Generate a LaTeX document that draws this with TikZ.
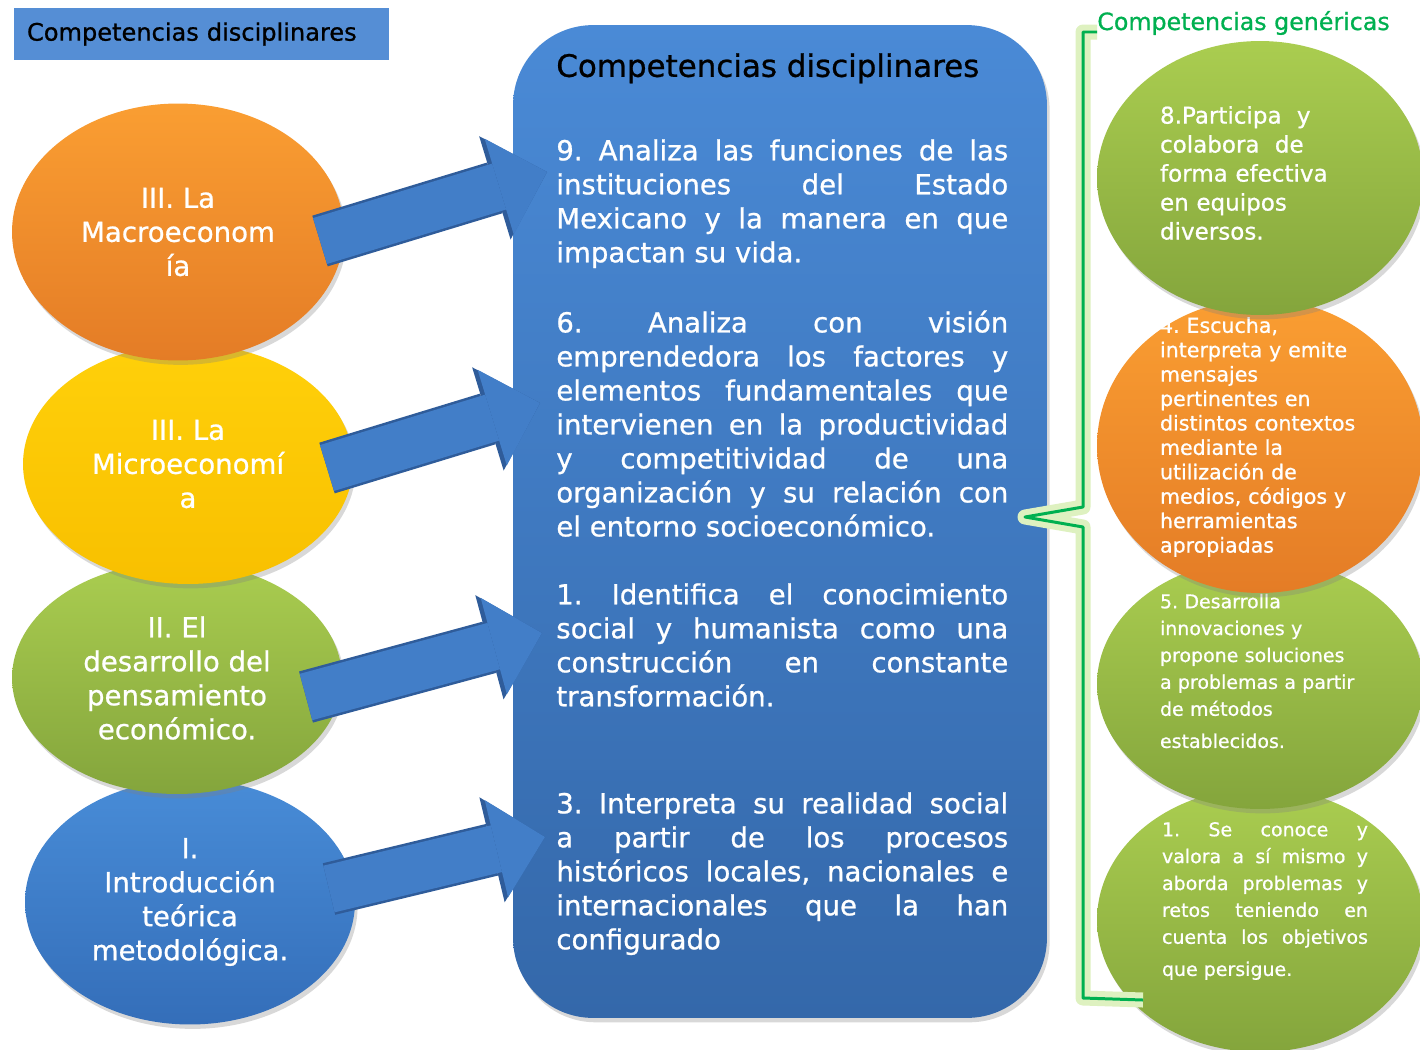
\documentclass[tikz,border=0pt]{standalone}
\usepackage{fontspec}
\setmainfont{DejaVu Sans}[FakeBold=0.8]
\usetikzlibrary{shapes.geometric,arrows.meta,shadows,positioning}

\definecolor{labelblue}{RGB}{85,142,213}
\definecolor{cboxtop}{RGB}{74,138,214}
\definecolor{cboxbot}{RGB}{52,104,170}
\definecolor{orangetop}{RGB}{250,158,50}
\definecolor{orangebot}{RGB}{228,124,38}
\definecolor{yellowtop}{RGB}{255,208,10}
\definecolor{yellowbot}{RGB}{248,192,0}
\definecolor{greentop}{RGB}{170,205,80}
\definecolor{greenbot}{RGB}{132,165,60}
\definecolor{bluetop}{RGB}{72,140,215}
\definecolor{bluebot}{RGB}{52,110,185}
\definecolor{arrowblue}{RGB}{66,126,200}
\definecolor{arrowdark}{RGB}{47,92,154}
\definecolor{bracegreen}{RGB}{0,176,80}
\definecolor{glowgreen}{RGB}{222,241,192}

\hyphenpenalty=10000
\exhyphenpenalty=10000
\tolerance=10000
\hbadness=10000
\frenchspacing

\tikzset{
  soft_shadow/.style={drop shadow={shadow xshift=1.5pt, shadow yshift=-2.5pt, opacity=0.3}},
  left_ell/.style={ellipse, inner sep=0pt, minimum width=6.6cm, text=white, align=center,
    font=\fontsize{15.7pt}{19.35pt}\selectfont, soft_shadow},
  right_ell/.style={ellipse, inner sep=0pt, minimum width=6.52cm, soft_shadow},
  orange_fill/.style={top color=orangetop, bottom color=orangebot},
  yellow_fill/.style={top color=yellowtop, bottom color=yellowbot},
  green_fill/.style={top color=greentop, bottom color=greenbot},
  blue_fill/.style={top color=bluetop, bottom color=bluebot},
  body_txt/.style={anchor=north west, inner sep=0pt, text width=9.04cm, align=justify,
    text=white, font=\fontsize{15.7pt}{19.35pt}\selectfont},
  gen_txt/.style={inner sep=0pt, text=white, align=left},
  arrow_edge/.style={draw=arrowdark, line width=1.06cm,
    -{Triangle[width=2.16cm, length=1.09cm, line width=0pt]}},
  blue_arrow/.style={draw=arrowblue, line width=0.96cm,
    -{Triangle[width=2.0cm, length=1.0cm, line width=0pt]}},
}

\begin{document}
\begin{tikzpicture}[x=0.02cm, y=-0.02cm]

	%%% Page
	\fill[white] (0,0) rectangle (1420,1049);
	\useasboundingbox (0,0) rectangle (1420,1049);

	%%% Label top left
	\node[fill=labelblue, minimum height=1.04cm, text width=6.98cm, inner xsep=0.26cm,
	  align=left, font=\fontsize{13.7pt}{16pt}\selectfont] (disc_label) at (201.5,34) {Competencias disciplinares};

	%%% Central box
	\node[rounded corners=1.6cm, minimum width=10.68cm, minimum height=19.86cm,
	  top color=cboxtop, bottom color=cboxbot, soft_shadow] (comp_box) at (780,521.5) {};
	\node[anchor=north west, inner sep=0pt, font=\fontsize{17.6pt}{21pt}\selectfont] (comp_title) at (556,53) {Competencias disciplinares};

	\node[body_txt] (comp_9) at (556,139) {9. Analiza las funciones de las\linebreak
	  instituciones del Estado\linebreak Mexicano y la manera en que\linebreak impactan su vida.};
	\node[body_txt] (comp_6) at (556,310) {6. Analiza con visión\linebreak
	  emprendedora los factores y\linebreak elementos fundamentales que\linebreak
	  intervienen en la productividad\linebreak y competitividad de una\linebreak
	  organización y su relación con\linebreak el entorno socioeconómico.};
	\node[body_txt] (comp_1) at (556,583) {1. Identifica el conocimiento\linebreak
	  social y humanista como una\linebreak construcción en constante\linebreak transformación.};
	\node[body_txt] (comp_3) at (556,792) {3. Interpreta su realidad social\linebreak
	  a partir de los procesos\linebreak históricos locales, nacionales e\linebreak
	  internacionales que la han\linebreak configurado};

	%%% Units (left)
	\node[left_ell, blue_fill, minimum height=4.9cm] (unit_i) at (190,902) {I.\\Introducción\\teórica\\metodológica.};
	\node[left_ell, green_fill, minimum height=4.64cm] (unit_ii) at (177,678) {II. El\\desarrollo del\\pensamiento\\económico.};
	\node[left_ell, yellow_fill, minimum height=4.8cm] (unit_micro) at (188,464) {III. La\\Microeconomí\\a};
	\node[left_ell, orange_fill, minimum width=6.64cm, minimum height=5.14cm] (unit_macro) at (178,232) {III. La\\Macroeconom\\ía};

	%%% Arrows
	\coordinate (ar_macro_tail) at (320,241);
	\coordinate (ar_macro_tip) at (547,172);
	\coordinate (ar_micro_tail) at (327,468);
	\coordinate (ar_micro_tip) at (540,403);
	\coordinate (ar_ii_tail) at (306,697);
	\coordinate (ar_ii_tip) at (542,633);
	\coordinate (ar_i_tail) at (329,889);
	\coordinate (ar_i_tip) at (545,837);
	\foreach \ar in {macro,micro,ii,i}{
	  \draw[arrow_edge] (ar_\ar_tail) -- (ar_\ar_tip);
	  \draw[blue_arrow] (ar_\ar_tail) -- (ar_\ar_tip);
	}

	%%% Generic competences (right)
	\node[right_ell, green_fill, minimum height=5.28cm] (gen_1) at (1260,920) {};
	\node[gen_txt, text width=4.12cm, align=justify, font=\fontsize{10.8pt}{15.3pt}\selectfont] (gen_1_txt) at (1265,901)
	  {1. Se conoce y\linebreak valora a sí mismo y\linebreak aborda problemas y\linebreak retos teniendo en\linebreak
	  cuenta los objetivos\vadjust{\vskip 3pt}\linebreak que persigue.};

	\node[right_ell, green_fill, minimum height=5.0cm] (gen_5) at (1260,684) {};
	\node[gen_txt, text width=4cm, font=\fontsize{10.8pt}{15.3pt}\selectfont] (gen_5_txt) at (1260,671)
	  {5. Desarrolla\\innovaciones y\\propone soluciones\\a problemas a partir\\de métodos\\[3pt]establecidos.};

	\node[right_ell, orange_fill, minimum height=5.88cm] (gen_4) at (1260,446) {};
	\node[gen_txt, text width=4cm, font=\fontsize{11.7pt}{13.9pt}\selectfont] (gen_4_txt) at (1260,437)
	  {4. Escucha,\\interpreta y emite\\mensajes\\pertinentes en\\distintos contextos\\mediante la\\utilización de\\medios, códigos y\\herramientas\\apropiadas};

	\node[right_ell, green_fill, minimum height=5.48cm] (gen_8) at (1260,178) {};
	\node[gen_txt, text width=4cm, font=\fontsize{13.1pt}{16.5pt}\selectfont] (gen_8_txt) at (1260,173)
	  {8.Participa~~y\\colabora~~de\\forma efectiva\\en equipos\\diversos.};

	%%% Bracket
	\node[anchor=base west, inner sep=0pt, text=bracegreen, font=\fontsize{13.5pt}{16pt}\selectfont] (gen_title) at (1097,30) {Competencias genéricas};
	\coordinate (br_top) at (1097,32);
	\coordinate (br_tip) at (1025,517);
	\coordinate (br_bot) at (1143,1000);
	\draw[glowgreen, line width=0.3cm, line join=round] (br_top) -- (1083,32) -- (1083,507) -- (br_tip) -- (1083,527) -- (1083,998) -- (br_bot);
	\draw[bracegreen, line width=1.7pt, line join=round] (br_top) -- (1083,32) -- (1083,507) -- (br_tip) -- (1083,527) -- (1083,998) -- (br_bot);

\end{tikzpicture}
\end{document}
